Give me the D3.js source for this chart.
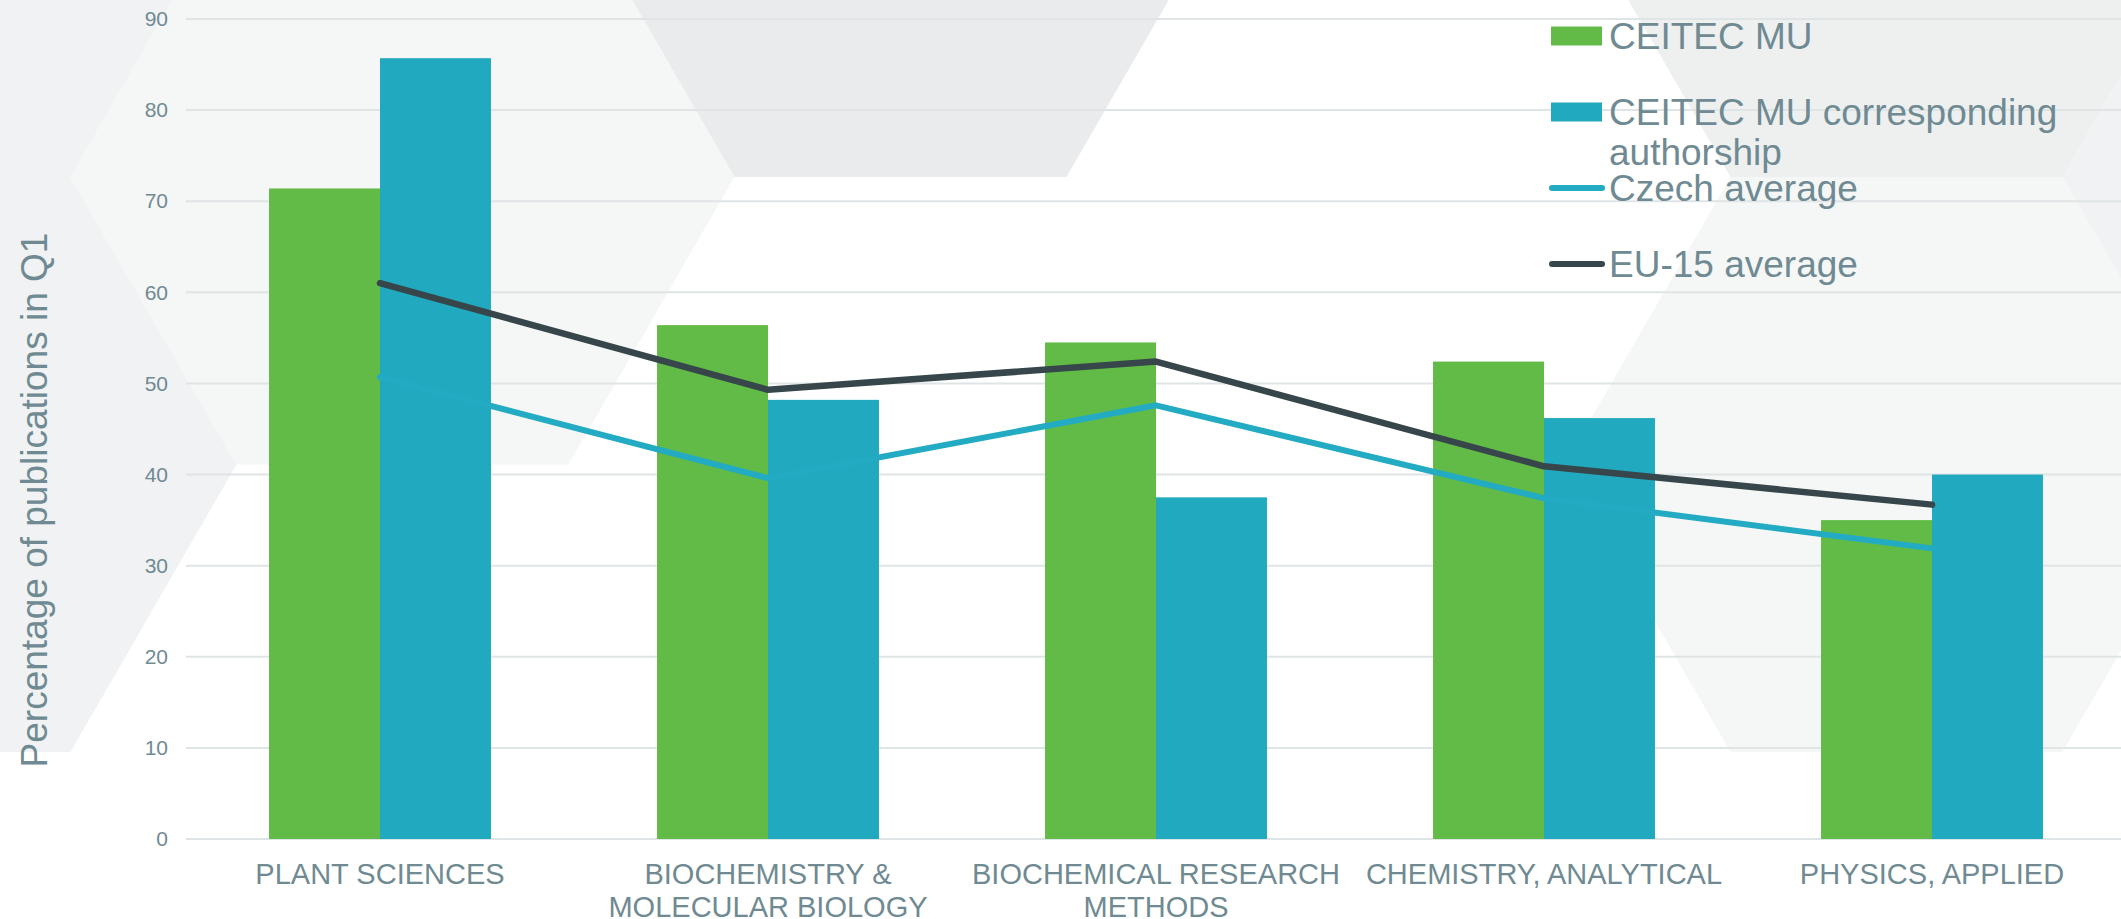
<!DOCTYPE html>
<html>
<head>
<meta charset="utf-8">
<script src="https://cdn.jsdelivr.net/npm/d3@7"></script>
<style>
  body { margin: 0; background: #fff; }
  svg { display: block; font-family: "Liberation Sans", Arial, sans-serif; }
</style>
</head>
<body>
<script>
var categories = ["PLANT SCIENCES", "BIOCHEMISTRY & MOLECULAR BIOLOGY", "BIOCHEMICAL RESEARCH METHODS", "CHEMISTRY, ANALYTICAL", "PHYSICS, APPLIED"]
var ceitec = [71.4, 56.4, 54.5, 52.4, 35.0]
var ceitecCorr = [85.7, 48.2, 37.5, 46.2, 40.0]
var czechAvg = [50.7, 39.6, 47.6, 37.4, 31.9]
var euAvg = [61.0, 49.3, 52.4, 40.9, 36.7]
var yTicks = [0, 10, 20, 30, 40, 50, 60, 70, 80, 90]
var seriesNames = ["CEITEC MU", "CEITEC MU corresponding authorship", "Czech average", "EU-15 average"]

var W = 2121, H = 919
var textColor = "#6f8a92"
var green = "#62bb47", blue = "#21a9bf", czechColor = "#22abc2", euColor = "#37464a"

var svg = d3.select("body").append("svg")
    .attr("width", W)
    .attr("height", H)

// background honeycomb (decoration)
var hexS = 332
var hexCells = [[-1, 0, "#f1f2f4"], [-1, 1, "#f1f2f4"], [0, 0, "#f5f6f6"], [1, 0, "#e9ebec"],
    [3, 0, "#eef0f0"], [3, 1, "#f5f6f6"], [4, 0, "#f0f2f3"]]
var bg = svg.append("g").attr("class", "bg")
hexCells.forEach(function (c) {
    var cx = 402.5 + 1.5 * hexS * c[0]
    var cy = 177 + 575 * c[1] + (c[0] % 2 !== 0 ? -287.5 : 0)
    var pts = d3.range(6).map(function (k) {
        var a = Math.PI / 3 * k
        return [cx + hexS * Math.cos(a), cy + hexS * Math.sin(a)]
    })
    bg.append("polygon")
        .attr("points", pts.map(function (p) { return p.join(",") }).join(" "))
        .attr("fill", c[2])
})

var x = d3.scaleBand()
    .domain(categories)
    .range([186, 2126])
    .paddingInner(0.428)
    .paddingOuter(0.214)

var x1 = d3.scaleBand()
    .domain([0, 1])
    .range([0, x.bandwidth()])

var y = d3.scaleLinear()
    .domain([0, 90])
    .range([839, 19])

// grid lines
svg.append("g")
    .selectAll("line")
    .data(yTicks)
    .enter()
    .append("line")
    .attr("x1", 186)
    .attr("x2", W)
    .attr("y1", function (d) { return y(d) })
    .attr("y2", function (d) { return y(d) })
    .style("stroke", "#dfe4e6")
    .style("stroke-width", 2)

// y axis labels
var yAxis = d3.axisLeft(y).tickValues(yTicks).tickSize(0).tickPadding(0)
var gy = svg.append("g")
    .attr("transform", "translate(168,0)")
    .call(yAxis)
gy.select(".domain").remove()
gy.selectAll("text")
    .style("font-size", "21px")
    .style("font-family", "Liberation Sans, Arial, sans-serif")
    .attr("fill", textColor)

svg.append("text")
    .attr("transform", "translate(47,500) rotate(-90)")
    .attr("text-anchor", "middle")
    .style("font-size", "37px")
    .attr("fill", textColor)
    .text("Percentage of publications in Q1")

// bars
var barSeries = [ceitec, ceitecCorr]
var barColors = [green, blue]
barSeries.forEach(function (vals, s) {
    svg.append("g")
        .selectAll("rect")
        .data(vals)
        .enter()
        .append("rect")
        .attr("x", function (d, i) { return x(categories[i]) + x1(s) })
        .attr("y", function (d) { return y(d) })
        .attr("width", x1.bandwidth())
        .attr("height", function (d) { return y(0) - y(d) })
        .attr("fill", barColors[s])
})

// lines
var line = d3.line()
    .x(function (d, i) { return x(categories[i]) + x.bandwidth() / 2 })
    .y(function (d) { return y(d) })

svg.append("path")
    .datum(czechAvg)
    .attr("d", line)
    .attr("fill", "none")
    .style("stroke", czechColor)
    .style("stroke-width", 6)
    .style("stroke-linecap", "round")
    .style("stroke-linejoin", "round")

svg.append("path")
    .datum(euAvg)
    .attr("d", line)
    .attr("fill", "none")
    .style("stroke", euColor)
    .style("stroke-width", 6.5)
    .style("stroke-linecap", "round")
    .style("stroke-linejoin", "round")

// category labels, wrapped to the band step
var xl = svg.append("g")
categories.forEach(function (c) {
    var t = xl.append("text")
        .attr("x", x(c) + x.bandwidth() / 2)
        .attr("y", 884)
        .attr("text-anchor", "middle")
        .style("font-size", "29px")
        .attr("fill", textColor)
    var words = c.split(" "), cur = [], lineNo = 0
    var ts = t.append("tspan").attr("x", x(c) + x.bandwidth() / 2)
    words.forEach(function (w) {
        cur.push(w)
        ts.text(cur.join(" "))
        if (ts.node().getComputedTextLength() > x.step() && cur.length > 1) {
            cur.pop()
            ts.text(cur.join(" "))
            cur = [w]
            lineNo++
            ts = t.append("tspan")
                .attr("x", x(c) + x.bandwidth() / 2)
                .attr("dy", 33)
                .text(w)
        }
    })
})

// legend
var legend = svg.append("g")
var legY = [36, 112, 188, 264]
seriesNames.forEach(function (name, i) {
    if (i < 2) {
        legend.append("rect")
            .attr("x", 1551)
            .attr("y", legY[i] - 9.5)
            .attr("width", 51)
            .attr("height", 19)
            .attr("fill", barColors[i])
    } else {
        legend.append("line")
            .attr("x1", 1552)
            .attr("x2", 1602)
            .attr("y1", legY[i])
            .attr("y2", legY[i])
            .style("stroke", i == 2 ? czechColor : euColor)
            .style("stroke-width", 6)
            .style("stroke-linecap", "round")
    }
    var t = legend.append("text")
        .attr("x", 1609)
        .attr("y", legY[i] + 13)
        .style("font-size", "37px")
        .attr("fill", textColor)
    if (i == 1) {
        t.append("tspan").attr("x", 1609).text("CEITEC MU corresponding")
        t.append("tspan").attr("x", 1609).attr("dy", 40).text("authorship")
    } else {
        t.text(name)
    }
})
</script>
</body>
</html>
